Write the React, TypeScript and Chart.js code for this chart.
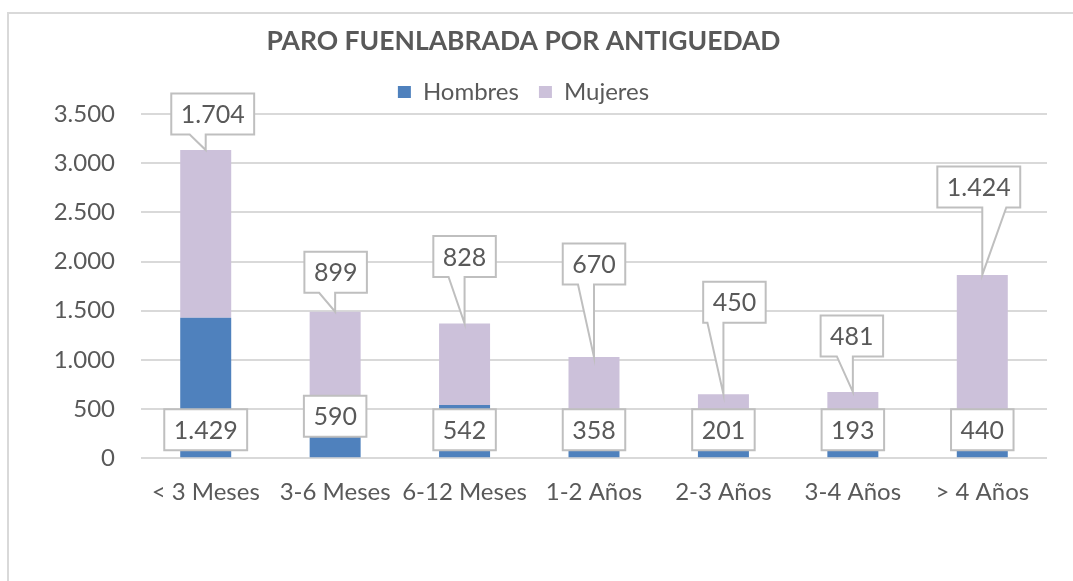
import React, { useEffect, useRef } from "react";
import { Chart, registerables } from "chart.js";

Chart.register(...registerables);

const chartTitle = "PARO FUENLABRADA POR ANTIGUEDAD";
const categories = ["< 3 Meses", "3-6 Meses", "6-12 Meses", "1-2 Años", "2-3 Años", "3-4 Años", "> 4 Años"];
const hombres = [1429, 590, 542, 358, 201, 193, 440];
const mujeres = [1704, 899, 828, 670, 450, 481, 1424];
const yMin = 0;
const yMax = 3500;
const yStep = 500;

// label placement (style only): callout offset of the "Mujeres" labels from the bar top
const mujeresCallout = [
  { dx: 7, dy: -36, side: -1 },
  { dx: 0.5, dy: -39.5, side: -1 },
  { dx: 0, dy: -67, side: -1 },
  { dx: 0, dy: -93, side: -1 },
  { dx: 11, dy: -92, side: -1 },
  { dx: -1, dy: -56, side: -1 },
  { dx: -3.5, dy: -88, side: 1 },
];
// lift of the "Hombres" label boxes above the axis base
const hombresLabelLift = [28.5, 42, 28.5, 28.5, 28.5, 28.5, 28.5];

const FONT = "Lato";
const TEXT = "#595959";
const GRID = "#d9d9d9";
const BOX_BORDER = "#bfbfbf";

const fmt = (n: number) => String(n).replace(/\B(?=(\d{3})+(?!\d))/g, ".");

const framePlugin = {
  id: "frame",
  beforeDraw(chart: any) {
    const ctx = chart.ctx;
    ctx.save();
    ctx.strokeStyle = GRID;
    ctx.lineWidth = 2;
    ctx.beginPath();
    ctx.moveTo(8, chart.height);
    ctx.lineTo(8, 13);
    ctx.lineTo(chart.width, 13);
    ctx.stroke();
    ctx.restore();
  },
};

const labelPlugin = {
  id: "boxLabels",
  afterDatasetsDraw(chart: any) {
    const ctx = chart.ctx;
    const metaH = chart.getDatasetMeta(0);
    const metaM = chart.getDatasetMeta(1);
    const base = chart.scales.y.getPixelForValue(0);
    ctx.save();
    ctx.font = `25px ${FONT}`;
    ctx.textAlign = "center";
    ctx.textBaseline = "middle";
    ctx.lineWidth = 2;
    ctx.strokeStyle = BOX_BORDER;
    const h = 41;
    // Hombres: plain boxes near the base
    metaH.data.forEach((bar: any, i: number) => {
      const text = fmt(hombres[i]);
      const w = ctx.measureText(text).width + 19;
      const cx = bar.x;
      const cy = base - hombresLabelLift[i];
      ctx.fillStyle = "#ffffff";
      ctx.beginPath();
      ctx.rect(cx - w / 2, cy - h / 2, w, h);
      ctx.fill();
      ctx.stroke();
      ctx.fillStyle = TEXT;
      ctx.fillText(text, cx, cy + 1);
    });
    // Mujeres: callouts pointing at bar top
    metaM.data.forEach((bar: any, i: number) => {
      const text = fmt(mujeres[i]);
      const w = ctx.measureText(text).width + 19;
      const o = mujeresCallout[i];
      const tipX = bar.x;
      const tipY = bar.y;
      const cx = tipX + o.dx;
      const cy = tipY + o.dy;
      const l = cx - w / 2;
      const r = cx + w / 2;
      const t = cy - h / 2;
      const b = cy + h / 2;
      let w1: number, w2: number;
      if (o.side < 0) {
        w1 = tipX - 16;
        w2 = tipX;
      } else {
        w1 = tipX;
        w2 = tipX + 24;
      }
      w1 = Math.max(l + 4, w1);
      w2 = Math.min(r - 4, w2);
      ctx.fillStyle = "#ffffff";
      ctx.beginPath();
      ctx.moveTo(l, t);
      ctx.lineTo(r, t);
      ctx.lineTo(r, b);
      ctx.lineTo(w2, b);
      ctx.lineTo(tipX, tipY);
      ctx.lineTo(w1, b);
      ctx.lineTo(l, b);
      ctx.closePath();
      ctx.fill();
      ctx.stroke();
      ctx.fillStyle = TEXT;
      ctx.fillText(text, cx, cy + 1);
    });
    ctx.restore();
  },
};

export default function App() {
  const ref = useRef<HTMLCanvasElement | null>(null);
  useEffect(() => {
    if (!ref.current) return;
    const chart = new Chart(ref.current, {
      type: "bar",
      data: {
        labels: categories,
        datasets: [
          { label: "Hombres", data: hombres, backgroundColor: "#4f81bd", borderWidth: 0 },
          { label: "Mujeres", data: mujeres, backgroundColor: "#ccc1da", borderWidth: 0 },
        ],
      },
      options: {
        responsive: false,
        animation: false,
        devicePixelRatio: 1,
        datasets: { bar: { categoryPercentage: 1, barPercentage: 0.394 } },
        layout: { padding: { top: 4, left: 0, right: 26, bottom: 54 } },
        plugins: {
          title: {
            display: true,
            text: chartTitle,
            color: TEXT,
            font: { family: FONT, size: 26.5, weight: "bold" },
            padding: { top: 22, bottom: 2.2 },
          },
          legend: {
            display: true,
            position: "top",
            labels: {
              color: TEXT,
              font: { family: FONT, size: 24 },
              boxWidth: 13,
              boxHeight: 12,
              padding: 20,
            },
          },
          tooltip: { enabled: false },
        },
        scales: {
          x: {
            stacked: true,
            grid: { display: false, drawTicks: false },
            border: { display: false },
            ticks: { color: TEXT, font: { family: FONT, size: 24 }, padding: 20, maxRotation: 0, autoSkip: false },
          },
          y: {
            stacked: true,
            min: yMin,
            max: yMax,
            grid: { color: GRID, lineWidth: 2, drawTicks: false },
            border: { display: false },
            ticks: {
              stepSize: yStep,
              color: TEXT,
              font: { family: FONT, size: 24 },
              padding: 26,
              callback: (v: any) => fmt(Number(v)),
            },
            afterFit: (s: any) => {
              s.width = 141;
            },
          },
        },
      },
      plugins: [framePlugin, labelPlugin],
    });
    return () => chart.destroy();
  }, []);
  return (
    <div style={{ position: "fixed", left: 0, top: 0, width: 1073, height: 581, background: "#fff" }}>
      <canvas ref={ref} width={1073} height={581} style={{ width: 1073, height: 581 }} />
    </div>
  );
}
